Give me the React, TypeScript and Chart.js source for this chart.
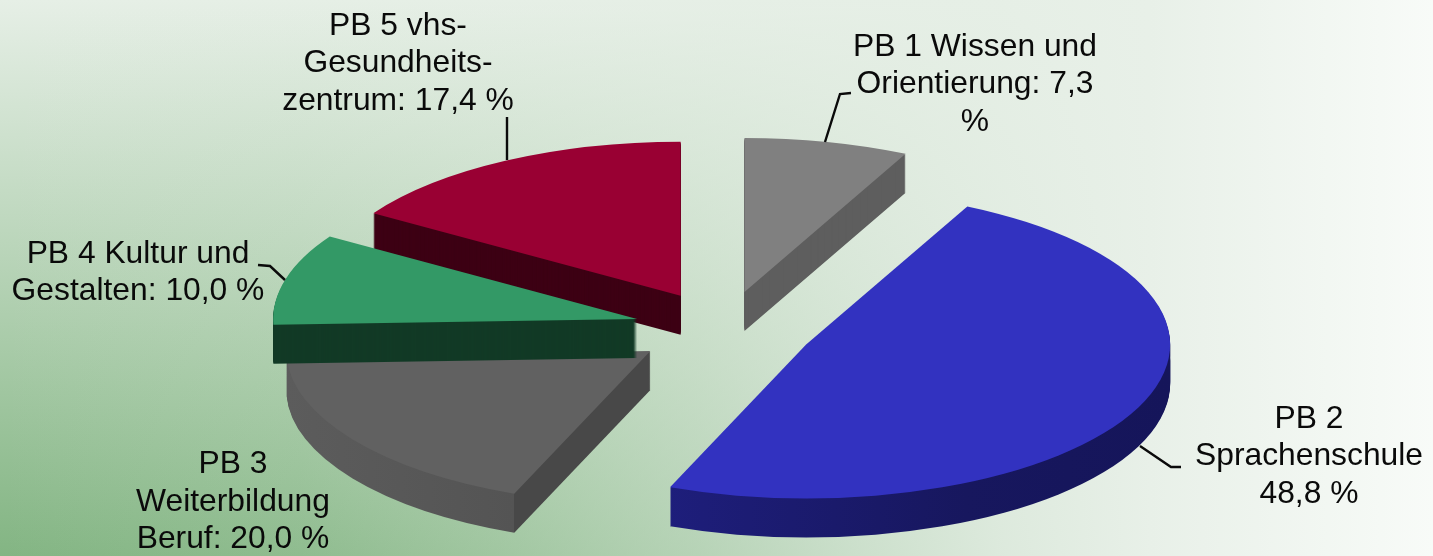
import React, { useEffect, useRef } from "react";
import { Chart, registerables } from "chart.js";

Chart.register(...registerables);

const categories = ["PB 1", "PB 2", "PB 3", "PB 4", "PB 5"];
// Slice shares as drawn in the picture (the printed percentages sum to 103.5).
const shares = [7.3, 48.8, 18.3, 9.6, 16.0];
const topColors = ["#808080", "#3232c0", "#616161", "#339966", "#990033"];
const wallColors = ["#5e5e5e", "#191968", "#4e4e4e", "#123a26", "#3d0014"];
const drawOrder = [0, 4, 2, 3, 1];

const labelLines = [
  ["PB 1 Wissen und", "Orientierung: 7,3", "%"],
  ["PB 2", "Sprachenschule", "48,8 %"],
  ["PB 3", "Weiterbildung", "Beruf: 20,0 %"],
  ["PB 4 Kultur und", "Gestalten: 10,0 %"],
  ["PB 5 vhs-", "Gesundheits-", "zentrum: 17,4 %"],
];
const labelCenters = [975, 1309, 233, 138, 398];
const labelBaselines = [
  [56, 93, 131],
  [428, 465, 503],
  [473, 511, 548],
  [263, 300],
  [35, 72, 110],
];
const leaders = [
  [[825, 142], [840, 94], [851, 93]],
  [[1140, 446], [1171, 467], [1181, 467]],
  [],
  [[258, 265], [270, 266], [285, 280]],
  [[507, 117], [507, 160]],
];

const SQUASH = 0.423;
const EXPLODE = 90;
const DEPTH = 39;

const pie3d = {
  id: "pie3d",
  beforeDatasetDraw(chart: any) {
    const ctx = chart.ctx;
    const arcs = chart.getDatasetMeta(0).data;
    const drawArc = (el: any, dy: number, color: any) => {
      const mid = (el.startAngle + el.endAngle) / 2;
      const fake = Object.create(el);
      fake.options = { ...el.options, backgroundColor: color, borderWidth: 0, offset: 0 };
      ctx.save();
      ctx.translate(el.x, el.y + dy);
      ctx.scale(1, SQUASH);
      ctx.translate(-el.x, -el.y);
      ctx.translate(EXPLODE * Math.cos(mid), EXPLODE * Math.sin(mid));
      el.draw.call(fake, ctx);
      ctx.restore();
    };
    const wallFill = (el: any, i: number) => {
      const R = el.outerRadius;
      if (i === 1) {
        const g = ctx.createLinearGradient(el.x - R * 0.4, 0, el.x + R, 0);
        g.addColorStop(0, "#1e1e7c");
        g.addColorStop(0.6, "#17175e");
        g.addColorStop(1, "#15155a");
        return g;
      }
      if (i === 2) {
        // curved wall left of the slice's start corner, cut face right of it
        const edge = el.x + R * Math.cos(el.startAngle);
        const g = ctx.createLinearGradient(el.x - R, 0, el.x + R, 0);
        const f = (edge - (el.x - R)) / (2 * R);
        g.addColorStop(0, "#5c5c5c");
        g.addColorStop(f, "#545454");
        g.addColorStop(f, "#484848");
        g.addColorStop(1, "#484848");
        return g;
      }
      return wallColors[i];
    };
    drawOrder.forEach((i) => {
      const el = arcs[i];
      const fill = wallFill(el, i);
      for (let k = DEPTH; k >= 1; k--) drawArc(el, k, fill);
      drawArc(el, 0, topColors[i]);
    });
    return false;
  },
  afterDatasetsDraw(chart: any) {
    const ctx = chart.ctx;
    ctx.save();
    ctx.fillStyle = "#0a0a0a";
    ctx.strokeStyle = "#0a0a0a";
    ctx.lineWidth = 2.4;
    ctx.font = '31.8px "Liberation Sans", Arial, sans-serif';
    ctx.textAlign = "center";
    ctx.textBaseline = "alphabetic";
    labelLines.forEach((lines, i) => {
      lines.forEach((t, j) => ctx.fillText(t, labelCenters[i], labelBaselines[i][j]));
      if (leaders[i].length) {
        ctx.beginPath();
        leaders[i].forEach(([x, y], n) => (n ? ctx.lineTo(x, y) : ctx.moveTo(x, y)));
        ctx.stroke();
      }
    });
    ctx.restore();
  },
};

export default function App() {
  const ref = useRef<HTMLCanvasElement>(null);
  useEffect(() => {
    const chart = new Chart(ref.current as HTMLCanvasElement, {
      type: "pie",
      data: {
        labels: categories,
        datasets: [{ data: shares, backgroundColor: topColors, borderWidth: 0 }],
      },
      options: {
        animation: false,
        responsive: false,
        radius: 364,
        layout: { padding: { left: 15, top: 102 } },
        plugins: { legend: { display: false }, tooltip: { enabled: false } },
      } as any,
      plugins: [pie3d as any],
    });
    return () => chart.destroy();
  }, []);
  return (
    <div
      style={{
        position: "fixed",
        inset: 0,
        background:
          "linear-gradient(to right, rgba(230,239,230,0) 0px, rgba(230,239,230,0.12) 300px, rgba(230,239,230,0.3) 500px, rgba(230,239,230,0.52) 700px, rgba(230,239,230,0.72) 850px, rgba(230,239,230,0.9) 1000px, #e8f0e8 1150px, #f8fbf8 1433px), linear-gradient(to bottom, #e6efe6 0px, #83b583 556px)",
      }}
    >
      <canvas ref={ref} width={1433} height={556} style={{ display: "block" }} />
    </div>
  );
}
